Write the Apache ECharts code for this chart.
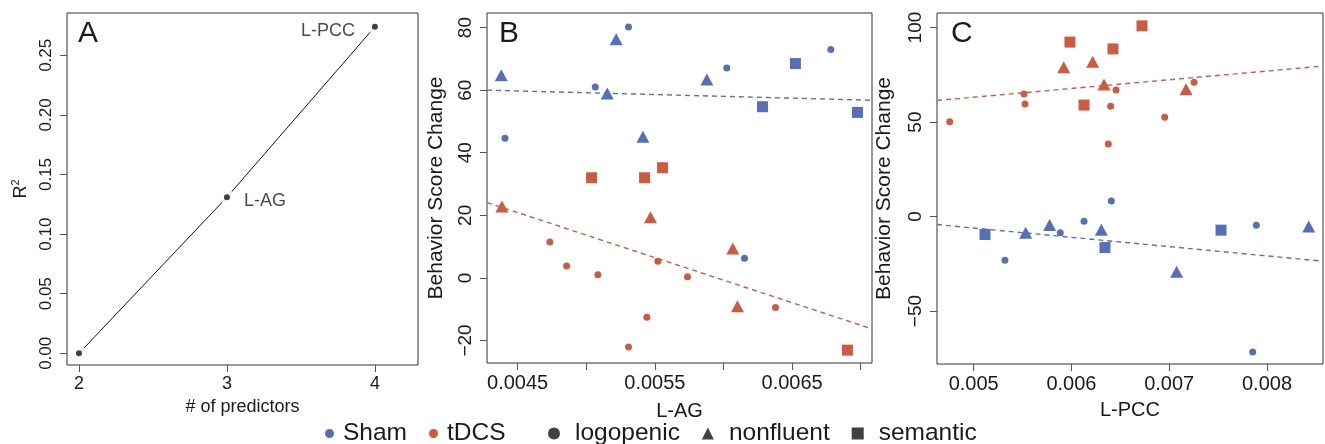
<!DOCTYPE html>
<html><head><meta charset="utf-8">
<script src="https://cdn.jsdelivr.net/npm/echarts@6/dist/echarts.min.js"></script>
<style>html,body{margin:0;padding:0;background:#fff}#c{width:1325px;height:444px}</style>
</head><body><div id="c"></div>
<script>
// ---------- Panel A ----------
const aX = [2, 3, 4];
const aY = [0, 0.131, 0.274];
const aLabels = ['', 'L-AG', 'L-PCC'];
const aXTicks = [2, 3, 4];
const aYTicks = [0, 0.05, 0.10, 0.15, 0.20, 0.25];

// ---------- Panel B (L-AG) ----------
const bXTicks = [0.0045, 0.005, 0.0055, 0.006, 0.0065, 0.007];
const bXLabels = [0.0045, 0.0055, 0.0065];
const bYTicks = [-20, 0, 20, 40, 60, 80];
const bSham = [[0.004381,64.8,'n'],[0.004408,44.6,'l'],[0.005066,61.0,'l'],[0.005153,58.9,'n'],[0.005218,76.3,'n'],[0.005308,80.2,'l'],[0.005413,45.1,'n'],[0.005879,63.4,'n'],[0.006024,67.1,'l'],[0.006153,6.3,'l'],[0.006284,54.7,'s'],[0.006524,68.5,'s'],[0.006782,73.0,'l'],[0.006976,52.9,'s']];
const bTdcs = [[0.004386,22.8,'n'],[0.004735,11.5,'l'],[0.004857,3.8,'l'],[0.005039,32.0,'s'],[0.005085,1.0,'l'],[0.005308,-22.1,'l'],[0.005425,32.0,'s'],[0.005442,-12.6,'l'],[0.005468,19.4,'n'],[0.005522,5.3,'l'],[0.005556,35.2,'s'],[0.005738,0.4,'l'],[0.006068,9.4,'n'],[0.006102,-9.1,'n'],[0.006379,-9.5,'l'],[0.006903,-23.1,'s']];
const bFitSham = [64.9, -1146.6];   // intercept, slope
const bFitTdcs = [85.7, -14403];

// ---------- Panel C (L-PCC) ----------
const cXTicks = [0.005, 0.006, 0.007, 0.008];
const cYTicks = [-50, 0, 50, 100];
const cSham = [[0.005116,-9.5,'s'],[0.005320,-23.1,'l'],[0.005532,-8.5,'n'],[0.005777,-4.4,'n'],[0.005886,-8.6,'l'],[0.006129,-2.5,'l'],[0.006306,-7.0,'n'],[0.006343,-16.4,'s'],[0.006408,8.3,'l'],[0.007076,-29.2,'n'],[0.007530,-7.2,'s'],[0.007854,-71.7,'l'],[0.007891,-4.6,'l'],[0.008427,-5.3,'n']];
const cTdcs = [[0.004755,50.2,'l'],[0.005515,64.8,'l'],[0.005525,59.5,'l'],[0.005921,79.0,'n'],[0.005985,92.3,'s'],[0.006129,59.0,'s'],[0.006217,81.9,'n'],[0.006333,69.9,'n'],[0.006377,38.4,'l'],[0.006401,58.3,'l'],[0.006425,88.7,'s'],[0.006456,66.9,'l'],[0.006722,100.9,'s'],[0.006954,52.5,'l'],[0.007172,67.3,'n'],[0.007254,71.1,'l']];
const cFitSham = [18.5, -4914];
const cFitTdcs = [40.1, 4610];

const groupNames = ['Sham', 'tDCS'];
const typeNames = ['logopenic', 'nonfluent', 'semantic'];

// ---------- styling ----------
const FONT = '"Liberation Sans", Arial, Helvetica, sans-serif';
const BLUE = '#5470B8', RED = '#CD5B40', INK = '#1a1a1a';
const SYM = {l: 'circle', n: 'triangle', s: 'rect'};
const SIZE = {l: 7, n: [13, 12], s: 11};
const minus = v => String(v).replace('-', '\u2212');

const ranges = {
  a: {x: [1.919, 4.291], y: [-0.0098, 0.2855]},
  b: {x: [0.004277, 0.007082], y: [-27.2, 84.66]},
  c: {x: [0.004625, 0.008573], y: [-78.0, 107.7]}
};

function xAx(gi, r, ticks, labels, fmt, name, fs, nfs, gap, lm) {
  return {type: 'value', gridIndex: gi, min: r[0], max: r[1],
    name: name, nameLocation: 'middle', nameGap: gap,
    nameTextStyle: {fontSize: nfs, color: INK, fontFamily: FONT},
    axisLine: {show: false, onZero: false}, splitLine: {show: false},
    axisTick: {show: true, length: 7, lineStyle: {color: '#555'}, customValues: ticks},
    axisLabel: {customValues: labels, formatter: fmt, fontSize: fs, color: INK, fontFamily: FONT, margin: lm, showMinLabel: true, showMaxLabel: true}};
}
function yAx(gi, r, ticks, fmt, name, fs, nfs, gap, lm, rich) {
  return {type: 'value', gridIndex: gi, min: r[0], max: r[1],
    name: name, nameLocation: 'middle', nameGap: gap,
    nameTextStyle: Object.assign({fontSize: nfs, color: INK, fontFamily: FONT}, rich ? {rich: rich} : {}),
    axisLine: {show: false, onZero: false}, splitLine: {show: false},
    axisTick: {show: true, length: 7, lineStyle: {color: '#555'}, customValues: ticks},
    axisLabel: {customValues: ticks, formatter: fmt, fontSize: fs, color: INK, fontFamily: FONT, margin: lm, rotate: 90, showMinLabel: true, showMaxLabel: true}};
}

function scatter(name, data, color, xi, yi) {
  return {type: 'scatter', name: name, xAxisIndex: xi, yAxisIndex: yi, data: data, silent: true, z: 4,
    symbol: v => SYM[v[2]], symbolSize: v => SIZE[v[2]],
    itemStyle: {color: color, opacity: 1}};
}
function fitLine(fit, range, color, xi, yi) {
  const xs = [range[0], range[1]];
  return {type: 'line', xAxisIndex: xi, yAxisIndex: yi, silent: true, symbol: 'none', z: 3,
    data: xs.map(x => [x, fit[0] + fit[1] * x]),
    lineStyle: {color: color, width: 1.4, type: [5, 4]}};
}

const aData = aX.map((x, i) => [x, aY[i]]);

const option = {
  animation: false,
  textStyle: {fontFamily: FONT},
  title: [
    {text: 'A', left: 73, top: 14, textStyle: {fontSize: 30, fontWeight: 'normal', color: INK, fontFamily: FONT}},
    {text: 'B', left: 494, top: 14, textStyle: {fontSize: 30, fontWeight: 'normal', color: INK, fontFamily: FONT}},
    {text: 'C', left: 946, top: 14, textStyle: {fontSize: 30, fontWeight: 'normal', color: INK, fontFamily: FONT}}
  ],
  grid: [
    {left: 67, top: 13, width: 351, height: 352, show: true, borderColor: '#333', borderWidth: 1, backgroundColor: 'transparent'},
    {left: 487, top: 13, width: 385, height: 350, show: true, borderColor: '#333', borderWidth: 1, backgroundColor: 'transparent'},
    {left: 937, top: 13, width: 386, height: 351, show: true, borderColor: '#333', borderWidth: 1, backgroundColor: 'transparent'}
  ],
  xAxis: [
    xAx(0, ranges.a.x, aXTicks, aXTicks, v => String(v), '# of predictors', 18, 18, 30, 10),
    xAx(1, ranges.b.x, bXTicks, bXLabels, v => v.toFixed(4), 'L-AG', 20, 20, 38, 10),
    xAx(2, ranges.c.x, cXTicks, cXTicks, v => v.toFixed(3), 'L-PCC', 20, 20, 36, 10)
  ],
  yAxis: [
    yAx(0, ranges.a.y, aYTicks, v => v.toFixed(2), '{r|R}{s|2}', 17, 18, 35, 12,
        {r: {fontSize: 18, color: INK, fontFamily: FONT, lineHeight: 22}, s: {fontSize: 11, color: INK, fontFamily: FONT, verticalAlign: 'top', lineHeight: 22}}),
    yAx(1, ranges.b.y, bYTicks, v => minus(v), 'Behavior Score Change', 19, 21, 40, 12),
    yAx(2, ranges.c.y, cYTicks, v => minus(v), 'Behavior Score Change', 19, 21, 42, 12)
  ],
  legend: [
    {left: 320, top: 416, orient: 'horizontal', itemWidth: 9, itemHeight: 9, itemGap: 22, selectedMode: false,
      textStyle: {fontSize: 24.5, color: INK, fontFamily: FONT, padding: [0, 0, 0, 4]},
      data: [{name: 'Sham', icon: 'circle'}, {name: 'tDCS', icon: 'circle'}]},
    {left: 543, top: 416, orient: 'horizontal', itemWidth: 12, itemHeight: 12, itemGap: 22, selectedMode: false,
      textStyle: {fontSize: 24.5, color: INK, fontFamily: FONT, padding: [0, 0, 0, 10]},
      data: [{name: 'logopenic', icon: 'circle'}, {name: 'nonfluent', icon: 'triangle'}, {name: 'semantic', icon: 'rect'}]}
  ],
  series: [
    // Panel A
    {type: 'line', xAxisIndex: 0, yAxisIndex: 0, data: aData, symbol: 'none', silent: true, z: 2,
      lineStyle: {color: '#111', width: 1}},
    {type: 'scatter', xAxisIndex: 0, yAxisIndex: 0, data: aData, symbol: 'circle', symbolSize: 15, silent: true, z: 3,
      itemStyle: {color: '#fff'}},
    {type: 'scatter', xAxisIndex: 0, yAxisIndex: 0, symbol: 'circle', symbolSize: 6, silent: true, z: 4,
      itemStyle: {color: '#111'},
      data: aData.map((d, i) => ({value: d, label: {show: aLabels[i] !== '', formatter: aLabels[i],
        position: i === 2 ? 'left' : 'right', distance: i === 2 ? 17 : 14, offset: [0, 4],
        fontSize: 18, color: INK, fontFamily: FONT}}))},
    // Panel B
    fitLine(bFitSham, ranges.b.x, BLUE, 1, 1),
    fitLine(bFitTdcs, ranges.b.x, RED, 1, 1),
    scatter(groupNames[0], bSham, BLUE, 1, 1),
    scatter(groupNames[1], bTdcs, RED, 1, 1),
    // Panel C
    fitLine(cFitSham, ranges.c.x, BLUE, 2, 2),
    fitLine(cFitTdcs, ranges.c.x, RED, 2, 2),
    scatter(groupNames[0], cSham, BLUE, 2, 2),
    scatter(groupNames[1], cTdcs, RED, 2, 2),
    // legend-only series for shapes
    ...typeNames.map(n => ({type: 'scatter', name: n, xAxisIndex: 1, yAxisIndex: 1, data: [], itemStyle: {color: '#111'}}))
  ]
};
const chart = echarts.init(document.getElementById('c'), null, {renderer: 'canvas'});
chart.setOption(option);
</script></body></html>
